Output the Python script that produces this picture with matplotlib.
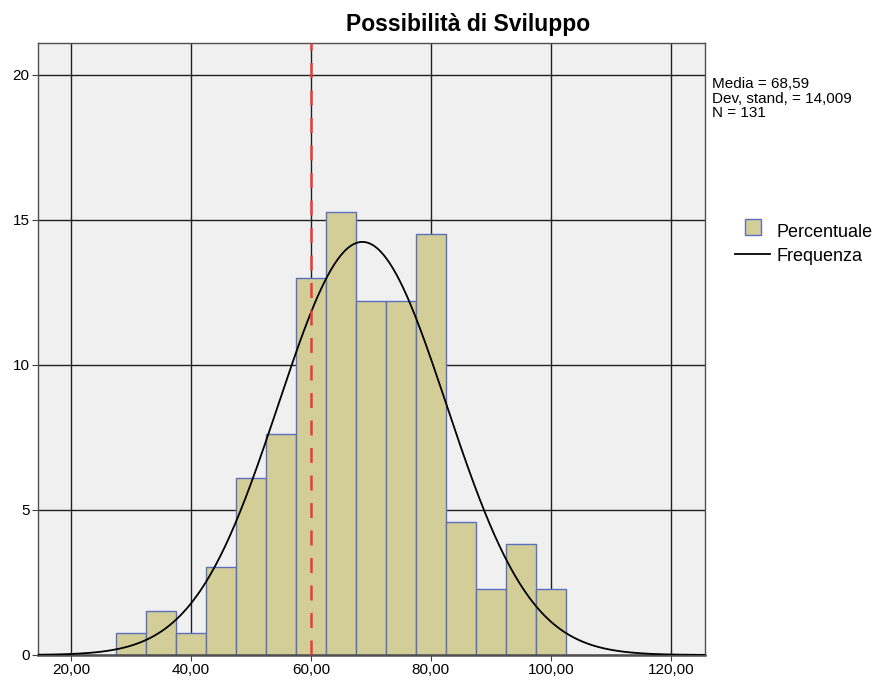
import numpy as np
import matplotlib.pyplot as plt
from matplotlib.patches import Patch, Rectangle
from matplotlib.lines import Line2D
from matplotlib.legend_handler import HandlerPatch

plt.rcParams['font.family'] = ['Liberation Sans', 'DejaVu Sans']

# histogram bins (width 5) and percentages, N = 131
bin_left = [27.5, 32.5, 37.5, 42.5, 47.5, 52.5, 57.5, 62.5, 67.5, 72.5, 77.5, 82.5, 87.5, 92.5, 97.5]
percent = [0.76, 1.53, 0.76, 3.05, 6.11, 7.63, 12.98, 15.27, 12.21, 12.21, 14.50, 4.58, 2.29, 3.82, 2.29]
media, dev_std, n_obs = 68.59, 14.009, 131
bin_w = 5
ref_line = 60

x_ticks = [20, 40, 60, 80, 100, 120]
x_labels = ['20,00', '40,00', '60,00', '80,00', '100,00', '120,00']
y_ticks = [0, 5, 10, 15, 20]

BAR_FACE, BAR_EDGE = '#d3ce97', '#5b6fbf'


def square_patch(legend, orig_handle, xdescent, ydescent, width, height, fontsize):
    # square swatch centred in the handle box
    return Rectangle((xdescent + (width - height) / 2, ydescent), height, height)


fig = plt.figure(figsize=(8.81, 6.87), dpi=100)
ax = fig.add_axes([0.0431, 0.0466, 0.757, 0.891])
ax.set_facecolor('#f0f0f0')

ax.bar(bin_left, percent, width=bin_w, align='edge', color=BAR_FACE,
       edgecolor=BAR_EDGE, linewidth=1.0, zorder=2)

# normal curve scaled to percent per bin
xs = np.linspace(14, 126, 400)
ys = 100 * bin_w / (dev_std * np.sqrt(2 * np.pi)) * np.exp(-0.5 * ((xs - media) / dev_std) ** 2)
ax.plot(xs, ys, color='black', linewidth=1.3, zorder=3)

ax.axvline(ref_line, color='#f03a3a', linestyle=(0, (6, 5)), linewidth=1.8, zorder=4)

ax.set_xlim(14.5, 125.7)
ax.set_ylim(0, 21.1)
ax.set_xticks(x_ticks)
ax.set_xticklabels(x_labels)
ax.set_yticks(y_ticks)
ax.grid(True, color='#202020', linewidth=1.0, zorder=0)
ax.set_axisbelow(True)
ax.tick_params(labelsize=11, length=4, color='#404040', pad=2)
for s in ax.spines.values():
    s.set_color('#505050')
    s.set_linewidth(1.0)
ax.spines['bottom'].set_linewidth(1.8)

fig.text(468 / 881, 1 - 24 / 687, 'Possibilità di Sviluppo', ha='center', va='center',
         fontsize=16.5, fontweight='bold')
fig.text(712 / 881, 1 - 77 / 687,
         f'Media = {media:.2f}'.replace('.', ',') + '\n'
         + f'Dev. stand. = {dev_std:.3f}'.replace('.', ',') + '\n'
         + f'N = {n_obs}',
         ha='left', va='top', fontsize=11, linespacing=1.05)

handles = [Patch(facecolor=BAR_FACE, edgecolor=BAR_EDGE, label='Percentuale'),
           Line2D([0], [0], color='black', linewidth=1.3, label='Frequenza')]
fig.legend(handles=handles, loc='upper left', bbox_to_anchor=(735 / 881, 1 - 223 / 687),
           frameon=False, fontsize=13, handlelength=1.95, handleheight=1.0,
           handletextpad=0.35, labelspacing=0.3, borderpad=0, borderaxespad=0,
           handler_map={Patch: HandlerPatch(patch_func=square_patch)})

fig.savefig('out.png', dpi=100)
